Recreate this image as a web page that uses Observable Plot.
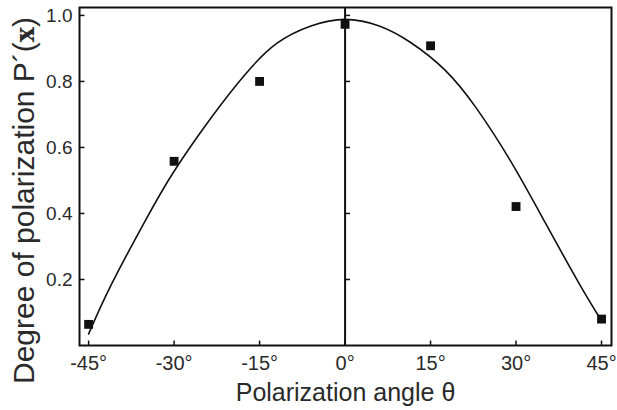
<!DOCTYPE html>
<html>
<head>
<meta charset="utf-8">
<script src="https://cdn.jsdelivr.net/npm/d3@7"></script>
<script src="https://cdn.jsdelivr.net/npm/@observablehq/plot@0.6"></script>
<style>
  body { margin: 0; background: #fff; }
  #chart svg { display: block; }
</style>
</head>
<body>
<div id="chart"></div>
<script>
// Measured degree of polarization at each polarization angle
const angles = [-45, -30, -15, 0, 15, 30, 45];
const polarization = [0.064, 0.558, 0.80, 0.973, 0.908, 0.421, 0.080];

// Fitted curve, sampled along the angle axis
const fitAngles = [-45, -41, -35, -30, -23.5, -17.5, -12, -6, 0, 6, 11.5, 17.5, 23, 29, 35, 41, 45];
const fitValues = [0.035, 0.185, 0.38, 0.528, 0.69, 0.822, 0.915, 0.968, 0.988, 0.968, 0.918, 0.835, 0.72, 0.56, 0.376, 0.19, 0.075];

// Axis ticks and titles
const xTicks = [-45, -30, -15, 0, 15, 30, 45];
const yTicks = [0.2, 0.4, 0.6, 0.8, 1.0];
const xDomain = [-46.6, 46.75];
const yDomain = [0, 1.024];
const xTitle = "Polarization angle θ";
const yTitle = "Degree of polarization P´(x)";

const points = angles.map((a, i) => ({angle: a, value: polarization[i]}));
const fit = fitAngles.map((a, i) => ({angle: a, value: fitValues[i]}));

// short inward tick marks drawn as symbols
const tickRight = {draw(context) { context.moveTo(0, 0); context.lineTo(5, 0); }};
const tickUp = {draw(context) { context.moveTo(0, 0); context.lineTo(0, -5); }};

const font = "'Liberation Sans', Arial, Helvetica, sans-serif";

const chart = Plot.plot({
  width: 617,
  height: 410,
  marginLeft: 79,
  marginRight: 6,
  marginTop: 7,
  marginBottom: 65,
  style: {fontFamily: font, color: "#111", background: "#fff"},
  x: {domain: xDomain},
  y: {domain: yDomain},
  marks: [
    // tick labels
    Plot.axisX(xTicks, {tickSize: 0, tickPadding: 10, tickFormat: d => `${d}°`, fontSize: 20, fill: "#2a2a2a", label: null}),
    Plot.axisY(yTicks, {tickSize: 0, tickPadding: 7, tickFormat: d3.format(".1f"), fontSize: 19, fill: "#2a2a2a", label: null}),
    // inward ticks on the bottom and left edges
    Plot.dot(xTicks, {x: d => d, y: yDomain[0], symbol: tickUp, stroke: "#111", fill: "none", strokeWidth: 1.5}),
    Plot.dot(yTicks, {x: xDomain[0], y: d => d, symbol: tickRight, stroke: "#111", fill: "none", strokeWidth: 1.5}),
    // vertical line at 0° with its own ticks
    Plot.ruleX([0], {strokeWidth: 2}),
    Plot.dot(yTicks, {x: 0, y: d => d, symbol: tickRight, stroke: "#111", fill: "none", strokeWidth: 1.5}),
    // fitted curve and measurements
    Plot.line(fit, {x: "angle", y: "value", curve: "natural", stroke: "#111", strokeWidth: 1.6}),
    Plot.dot(points, {x: "angle", y: "value", symbol: "square", r: 5, fill: "#111", stroke: "none"}),
    Plot.frame({stroke: "#111", strokeWidth: 2}),
    // axis titles
    Plot.text([xTitle], {frameAnchor: "bottom", lineAnchor: "bottom", dy: 55, fontSize: 25, fill: "#2a2a2a"}),
    Plot.text([yTitle], {frameAnchor: "left", textAnchor: "middle", lineAnchor: "bottom", rotate: -90, dx: -46, dy: 24, fontSize: 30, fill: "#2a2a2a"})
  ]
});

// set the variable x in P´(x) in bold serif
d3.select(chart).selectAll("text").each(function() {
  if (this.textContent === yTitle) {
    const sel = d3.select(this).text(null);
    sel.append("tspan").text("Degree of polarization P´(");
    sel.append("tspan").attr("font-family", "'DejaVu Serif', serif").attr("font-weight", "bold").attr("font-size", "0.85em").text("x");
    sel.append("tspan").text(")");
  }
});

document.getElementById("chart").append(chart);
</script>
</body>
</html>
